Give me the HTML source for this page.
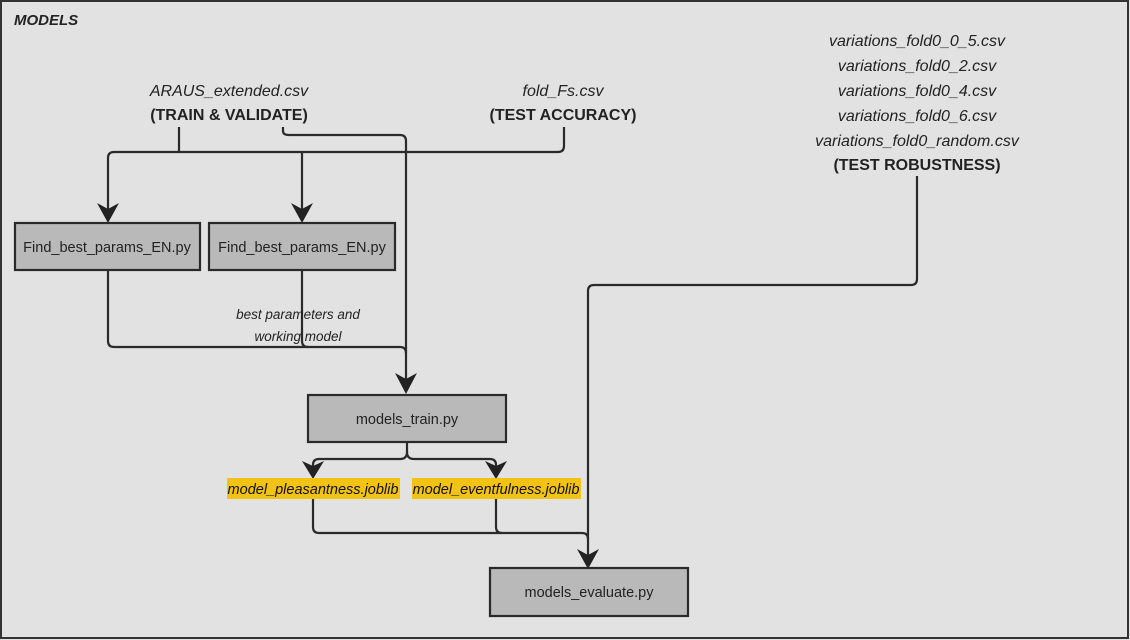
<!DOCTYPE html>
<html><head><meta charset="utf-8"><style>
html,body{margin:0;padding:0;background:#e2e2e2;}
svg{display:block;font-family:"Liberation Sans","DejaVu Sans",sans-serif;}
</style></head><body>
<svg width="1130" height="640" viewBox="0 0 1130 640" xmlns="http://www.w3.org/2000/svg">
<rect x="1" y="1" width="1127" height="637" fill="#e2e2e2" stroke="#333" stroke-width="2"/>
<text x="14" y="25" font-size="15" font-weight="bold" font-style="italic" fill="#222">MODELS</text>

<g fill="#222" text-anchor="middle" font-size="16">
<text x="229" y="96" font-style="italic">ARAUS_extended.csv</text>
<text x="229" y="120" font-weight="bold">(TRAIN &amp; VALIDATE)</text>
<text x="563" y="96" font-style="italic">fold_Fs.csv</text>
<text x="563" y="120" font-weight="bold">(TEST ACCURACY)</text>
<text x="917" y="46" font-style="italic">variations_fold0_0_5.csv</text>
<text x="917" y="71" font-style="italic">variations_fold0_2.csv</text>
<text x="917" y="96" font-style="italic">variations_fold0_4.csv</text>
<text x="917" y="121" font-style="italic">variations_fold0_6.csv</text>
<text x="917" y="146" font-style="italic">variations_fold0_random.csv</text>
<text x="917" y="170" font-weight="bold">(TEST ROBUSTNESS)</text>
</g>

<g fill="none" stroke="#2a2a2a" stroke-width="2.2" stroke-linejoin="round">
<path d="M179 127 V152"/>
<path d="M564 127 V146 Q564 152 558 152 H114 Q108 152 108 158 V214"/>
<path d="M302 152 V214"/>
<path d="M283 127 V131 Q283 135 289 135 H400 Q406 135 406 141 V383"/>
<path d="M108 270 V341 Q108 347 114 347 H400 Q406 347 406 353"/>
<path d="M302 270 V341 Q302 347 308 347"/>
<path d="M917 176 V279 Q917 285 911 285 H594 Q588 285 588 291 V561"/>
<path d="M407 442 V452 Q407 459 400 459 H319 Q313 459 313 465 V470"/>
<path d="M407 452 Q407 459 414 459 H490 Q496 459 496 465 V470"/>
<path d="M313 499 V527 Q313 533 319 533 H582 Q588 533 588 539"/>
<path d="M496 499 V527 Q496 533 502 533"/>
</g>
<g fill="#222">
<path d="M97 203 L108 223 L119 203 L108 209 Z"/>
<path d="M291 203 L302 223 L313 203 L302 209 Z"/>
<path d="M395 373 L406 394 L417 373 L406 379 Z"/>
<path d="M302 461 L313 479 L324 461 L313 466 Z"/>
<path d="M485 461 L496 479 L507 461 L496 466 Z"/>
<path d="M577 549 L588 569 L599 549 L588 555 Z"/>
</g>

<g stroke="#2a2a2a" stroke-width="2.2" fill="#b9b9b9">
<rect x="15" y="223" width="185" height="47"/>
<rect x="209" y="223" width="186" height="47"/>
<rect x="308" y="395" width="198" height="47"/>
<rect x="490" y="568" width="198" height="48"/>
</g>
<g fill="#222" text-anchor="middle" font-size="14.5">
<text x="107" y="252">Find_best_params_EN.py</text>
<text x="302" y="252">Find_best_params_EN.py</text>
<text x="407" y="424">models_train.py</text>
<text x="589" y="597">models_evaluate.py</text>
</g>
<g fill="#222" text-anchor="middle" font-size="13.5" font-style="italic">
<text x="298" y="319">best parameters and</text>
<text x="298" y="341">working  model</text>
</g>
<rect x="227" y="478" width="173" height="21" fill="#f2c315"/>
<rect x="412" y="478" width="169" height="21" fill="#f2c315"/>
<g fill="#111" text-anchor="middle" font-size="14.5" font-style="italic">
<text x="313" y="494">model_pleasantness.joblib</text>
<text x="496" y="494">model_eventfulness.joblib</text>
</g>
</svg>
</body></html>
